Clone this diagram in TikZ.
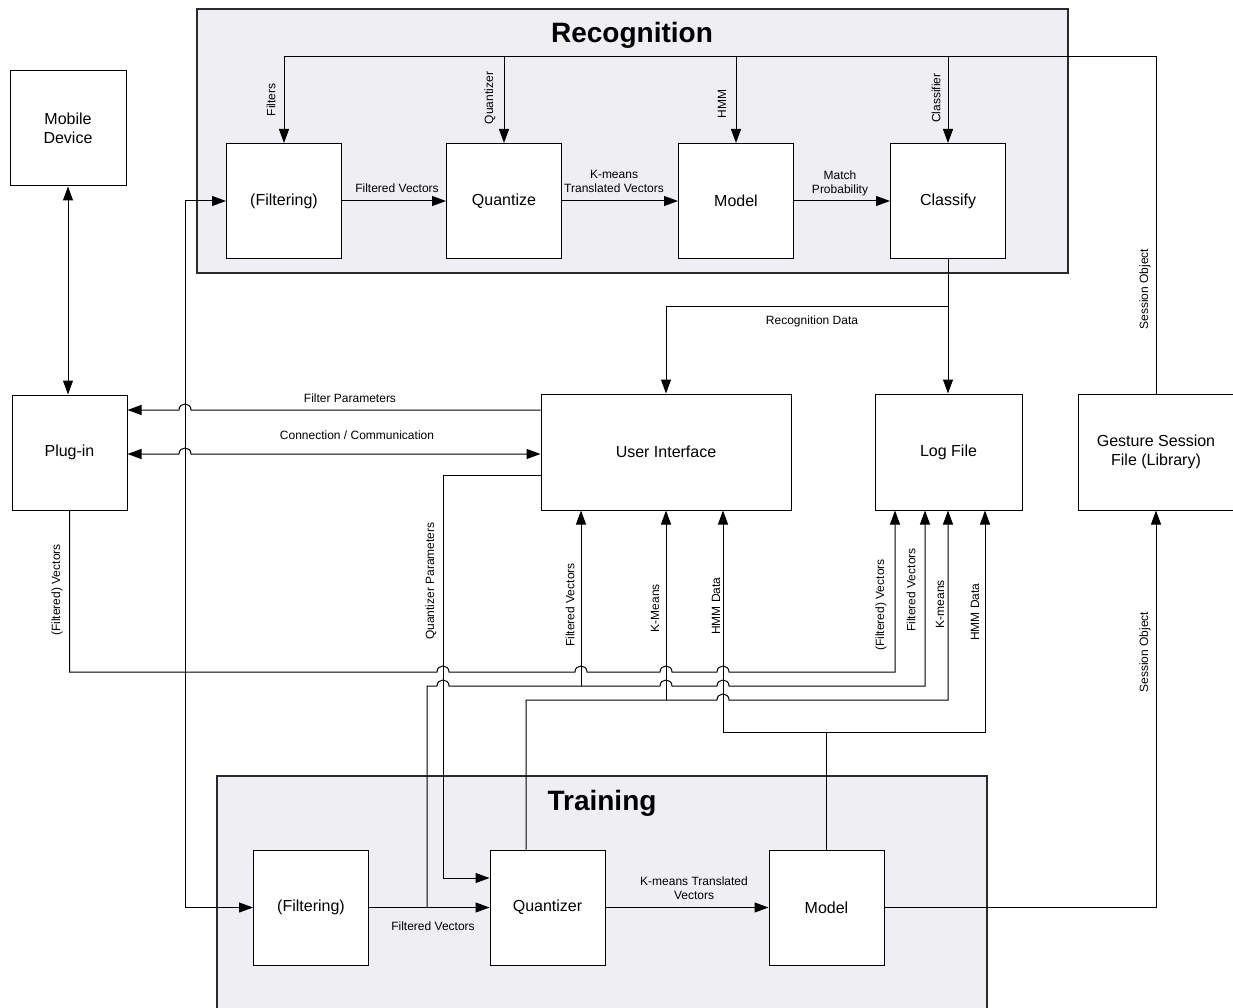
\documentclass[tikz,border=0pt]{standalone}
\usepackage{fontspec}
\setmainfont{Liberation Sans}
\usetikzlibrary{arrows.meta,calc}

\definecolor{framefill}{HTML}{EFEEF3}
\definecolor{frameline}{HTML}{2A2A2A}

\tikzset{
  block/.style={draw=black, fill=white, line width=1pt, minimum width=115pt,
    minimum height=115pt, inner sep=0pt, align=center,
    font=\fontsize{16}{19}\selectfont},
  frame/.style={draw=frameline, fill=framefill, line width=1.2pt},
  title/.style={font=\fontsize{28}{32}\selectfont\bfseries},
  lbl/.style={font=\fontsize{12}{14}\selectfont, align=center, inner sep=0pt},
  vlbl/.style={lbl, rotate=90},
  wire/.style={line width=1pt, draw=black},
  arr/.style={wire, -{Triangle[length=14pt,width=10pt]}},
  rarr/.style={wire, {Triangle[length=14pt,width=10pt]}-},
  darr/.style={wire, {Triangle[length=14pt,width=10pt]}-{Triangle[length=14pt,width=10pt]}},
  hop/.style args={#1/#2}{insert path={-- ({#1-6},#2)
    .. controls ({#1-6},{#2-8}) and ({#1+6},{#2-8}) .. ({#1+6},#2)}}
}

\begin{document}
\begin{tikzpicture}[x=1pt,y=-1pt]
\useasboundingbox (0,0) rectangle (1233,1008);
\clip (0,0) rectangle (1233,1008);

% group frames
\draw[frame] (197,9) rectangle (1068,273);
\node[title] (rectitle) at (632,35) {Recognition};
\draw[frame] (217,776) rectangle (987,1020);
\node[title] (traintitle) at (602,803) {Training};

% recognition stages
\node[block] (rfilt)  at (284,201) {(Filtering)};
\node[block] (rquant) at (504,201) {Quantize};
\node[block] (rmodel) at (736,201) {Model};
\node[block] (rclass) at (948,201) {Classify};

% training stages
\node[block] (tfilt)  at (311,907.5) {(Filtering)};
\node[block] (tquant) at (547.5,907.5) {Quantizer};
\node[block] (tmodel) at (826.5,907.5) {Model};

% outer components
\node[block, minimum width=116pt] (mobile) at (68,128.5) {Mobile\\Device};
\node[block] (plugin) at (69.5,452.5) {Plug-in};
\node[block, minimum width=250pt, minimum height=116pt] (ui) at (666,452) {User Interface};
\node[block, minimum width=147pt, minimum height=116pt] (log) at (948.5,452) {Log File};
\node[block, minimum width=160pt, minimum height=116pt] (gsf) at (1158,452) {};
\node[lbl, font=\fontsize{16}{19}\selectfont] (gsftext) at (1156,452) {Gesture Session\\File (Library)};

% session object bus feeding the recognition stages
\coordinate (busR) at (1156,57);
\draw[wire] (gsf.north -| busR) -- (busR) -- (rfilt.north |- busR);
\draw[arr] (rfilt.north |- busR) -- (rfilt.north);
\draw[arr] (rquant.north |- busR) -- (rquant.north);
\draw[arr] (rmodel.north |- busR) -- (rmodel.north);
\draw[arr] (rclass.north |- busR) -- (rclass.north);
\node[vlbl] (lfilters) at (271,100) {Filters};
\node[vlbl] (lquantizer) at (490,98) {Quantizer};
\node[vlbl] (lhmm) at (722,104) {HMM};
\node[vlbl] (lclassifier) at (936,98) {Classifier};
\node[vlbl] (lsess1) at (1145,289) {Session Object};

% recognition chain
\draw[arr] (rfilt) -- (rquant);
\draw[arr] (rquant) -- (rmodel);
\draw[arr] (rmodel) -- (rclass);
\node[lbl] (lfv1) at (397,188) {Filtered Vectors};
\node[lbl] (lkm1) at (614,181) {K-means\\Translated Vectors};
\node[lbl] (lmp) at (840,183) {Match\\Probability};

% recognition data
\draw[arr] (rclass.south) -- (rclass.south |- log.north);
\draw[arr] (rclass.south |- 0,306) -| (ui.north);
\node[lbl] (lrecdata) at (812,321) {Recognition Data};

% mobile device <-> plug-in
\draw[darr] (mobile.south) -- (mobile.south |- plugin.north);

% plug-in <-> user interface
\draw[rarr] (plugin.east |- 0,410) [hop=185/410] -- (ui.west |- 0,410);
\node[lbl] (lfp) at (350,398) {Filter Parameters};
\draw[darr] (plugin.east |- 0,454) [hop=185/454] -- (ui.west |- 0,454);
\node[lbl] (lcc) at (357,435) {Connection / Communication};

% vectors from the plug-in
\coordinate (vj) at (185,672);
\draw[arr] (vj) |- (rfilt.west);
\draw[arr] (vj) |- (tfilt.west);
\draw[arr] (plugin.south) -- (plugin.south |- vj) -- (vj)
  [hop=443/672] [hop=581/672] [hop=666/672] [hop=723/672]
  -- (895,672) -- (log.south -| 895,0);
\node[vlbl] (lfv2) at (57,590) {(Filtered) Vectors};
\node[vlbl] (lfv3) at (881,605) {(Filtered) Vectors};

% quantizer parameters
\draw[arr] (ui.west |- 0,475) -- (443,475) -- (443,878) -- (tquant.west |- 0,878);
\node[vlbl] (lqp) at (431,581) {Quantizer Parameters};

% training chain
\draw[arr] (tfilt.east) -- (tquant.west);
\draw[arr] (tquant.east) -- (tmodel.west);
\node[lbl] (lfv4) at (433,926) {Filtered Vectors};
\node[lbl] (lkm2) at (694,888) {K-means Translated\\Vectors};

% filtered vectors from training
\coordinate (fj) at (427,908);
\draw[arr] (fj) -- (427,686) [hop=443/686] [hop=666/686] [hop=723/686]
  -- (925,686) -- (log.south -| 925,0);
\draw[arr] (581,686) -- (ui.south -| 581,0);
\node[vlbl] (lfv5) at (570,605) {Filtered Vectors};
\node[vlbl] (lfv6) at (911,590) {Filtered Vectors};

% k-means from the quantizer
\draw[arr] (tquant.north -| 526,0) -- (526,700) [hop=723/700]
  -- (948,700) -- (log.south -| 948,0);
\draw[arr] (666,700) -- (ui.south -| 666,0);
\node[vlbl] (lkm3) at (655,608) {K-Means};
\node[vlbl] (lkm4) at (940,604) {K-means};

% hmm data from the model
\coordinate (hj) at (828,732);
\draw[wire] (tmodel.north) -- (tmodel.north |- hj);
\draw[arr] (hj) -- (723,732) -- (ui.south -| 723,0);
\draw[arr] (hj) -- (985,732) -- (log.south -| 985,0);
\node[vlbl] (lhmm2) at (716,606) {HMM Data};
\node[vlbl] (lhmm3) at (975,612) {HMM Data};

% session object to the library
\draw[arr] (tmodel.east) -| (gsf.south -| busR);
\node[vlbl] (lsess2) at (1145,652) {Session Object};
\end{tikzpicture}
\end{document}
